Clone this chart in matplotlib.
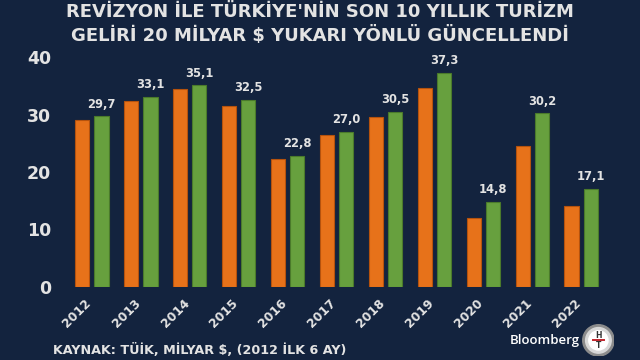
import numpy as np
import matplotlib.pyplot as plt
from matplotlib.patches import Circle

# veriler (milyar $)
years = ['2012', '2013', '2014', '2015', '2016', '2017', '2018', '2019', '2020', '2021', '2022']
eski = [29.0, 32.4, 34.5, 31.5, 22.2, 26.4, 29.5, 34.6, 12.0, 24.5, 14.1]
yeni = [29.7, 33.1, 35.1, 32.5, 22.8, 27.0, 30.5, 37.3, 14.8, 30.2, 17.1]
yeni_etiket = ['29,7', '33,1', '35,1', '32,5', '22,8', '27,0', '30,5', '37,3', '14,8', '30,2', '17,1']
yticks = [0, 10, 20, 30, 40]

bg = '#13233e'
txt = '#e3e3e3'
turuncu = '#e7721a'
yesil = '#67a03e'

fig = plt.figure(figsize=(6.4, 3.6), dpi=100, facecolor=bg)
ax = fig.add_axes([0.0973, 0.204, 0.857, 0.669], facecolor=bg)

x = np.arange(len(years))
w = 0.3
off = 0.195
ax.bar(x - off, eski, w, color=turuncu, edgecolor='#b5520d', linewidth=0.8)
ax.bar(x + off, yeni, w, color=yesil, edgecolor='#4a7a2b', linewidth=0.8)

for xi, v, lab in zip(x, yeni, yeni_etiket):
    ax.text(xi + off, v + 1.0, lab, ha='center', va='bottom', color=txt,
            fontsize=8.3, fontweight='bold')

ax.set_xlim(-0.6, 10.6)
ax.set_ylim(0, 42)
ax.set_yticks(yticks)
ax.set_yticklabels([str(t) for t in yticks], color=txt, fontsize=12.5, fontweight='bold')
ax.set_xticks(x - 0.14)
ax.set_xticklabels(years, rotation=45, ha='right', rotation_mode='anchor',
                   color=txt, fontsize=8.8, fontweight='bold')
ax.tick_params(axis='y', length=0, pad=8)
ax.tick_params(axis='x', length=0, pad=7)
for s in ax.spines.values():
    s.set_visible(False)

fig.text(0.5, 0.968, "REVİZYON İLE TÜRKİYE'NİN SON 10 YILLIK TURİZM",
         ha='center', va='center', color=txt, fontsize=13, fontweight='bold')
fig.text(0.5, 0.902, "GELİRİ 20 MİLYAR $ YUKARI YÖNLÜ GÜNCELLENDİ",
         ha='center', va='center', color=txt, fontsize=13, fontweight='bold')

fig.text(0.083, 0.028, 'KAYNAK: TÜİK, MİLYAR $, (2012 İLK 6 AY)',
         ha='left', va='center', color=txt, fontsize=9.2, fontweight='bold')

fig.text(0.906, 0.055, 'Bloomberg', ha='right', va='center', color='white',
         fontsize=9.5, family='Open Sans', fontweight='semibold')

# HT logosu
lx = fig.add_axes([0.91, 0.01, 0.05, 0.089])
lx.set_xlim(-1, 1)
lx.set_ylim(-1, 1)
lx.set_aspect('equal')
lx.axis('off')
lx.add_patch(Circle((0, 0), 0.98, color='#8c8c8c'))
lx.add_patch(Circle((0, 0), 0.8, color='#d8d8d8'))
lx.add_patch(Circle((0, 0), 0.6, color='white'))
lx.text(0, 0.28, 'H', ha='center', va='center', fontsize=5.5, fontweight='bold', color='#333333')
lx.plot([-0.32, 0.32], [0, 0], color='#c0262d', linewidth=1.4)
lx.text(0, -0.3, 'T', ha='center', va='center', fontsize=5.5, fontweight='bold', color='#333333')

fig.savefig('out.png', dpi=100, facecolor=bg)
